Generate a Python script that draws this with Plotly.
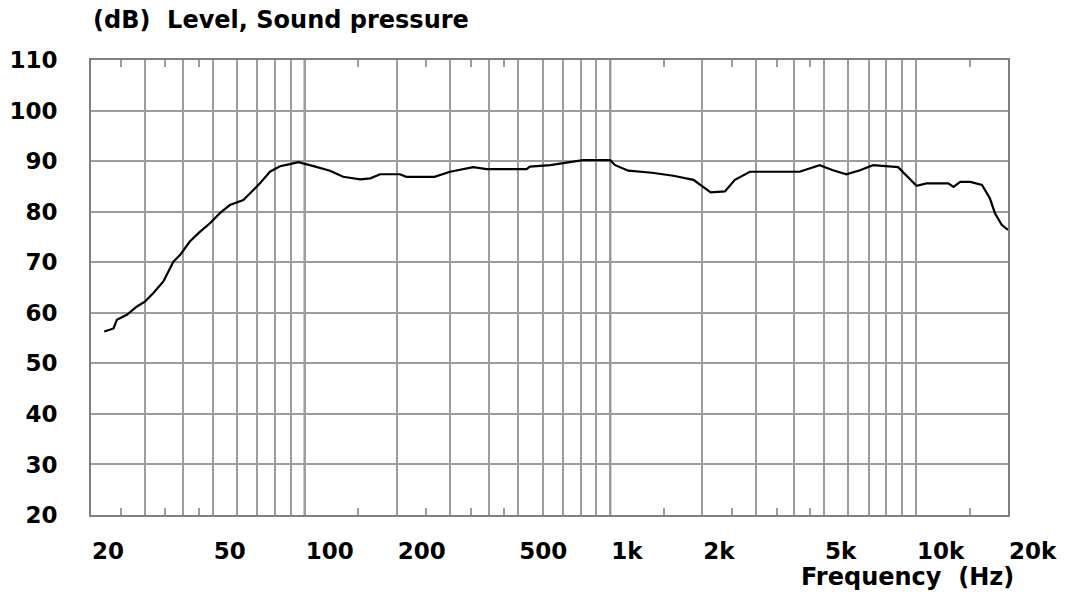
import plotly.graph_objects as go

# Measured response (Hz, dB)
FREQ = [22.1, 23.7, 24.3, 26.2, 28.2, 30.0, 32.0, 34.5, 37.2, 39.1, 42.1, 45.4, 49.0, 52.8,
        56.9, 63.0, 66.2, 71.4, 77.0, 83.0, 89.5, 95.4, 106.9, 121, 133.6, 152, 164, 176.6,
        205, 215, 266, 299, 356, 394, 532, 546, 636, 711, 814, 998, 1037, 1146, 1368, 1607,
        1870, 2130, 2370, 2556, 2862, 4160, 4840, 5350, 5920, 6560, 7240, 8740, 9560, 10040,
        10820, 12760, 13260, 13960, 15050, 16440, 17460, 18130, 19070, 20000]
SPL = [56.3, 56.9, 58.6, 59.6, 61.2, 62.2, 63.9, 66.2, 70.1, 71.4, 74.1, 76.0, 77.7, 79.7,
       81.3, 82.3, 83.6, 85.6, 87.9, 89.0, 89.4, 89.8, 89.0, 88.1, 86.9, 86.4, 86.6, 87.4,
       87.4, 86.9, 86.9, 87.9, 88.8, 88.4, 88.4, 88.9, 89.2, 89.7, 90.2, 90.2, 89.2, 88.1, 87.7, 87.1,
       86.3, 83.8, 84.0, 86.3, 87.9, 87.9, 89.2, 88.2, 87.4, 88.2, 89.2, 88.8, 86.3, 85.1,
       85.6, 85.6, 84.9, 85.9, 85.9, 85.3, 82.6, 79.7, 77.4, 76.4]

GRID_VALS = [20, 30, 40, 50, 60, 70, 80, 90, 100, 200, 300, 400, 500, 600, 700, 800, 900,
             1000, 2000, 3000, 4000, 5000, 6000, 7000, 8000, 9000, 10000, 20000]
LABELS = {20: "20", 50: "50", 100: "100", 200: "200", 500: "500", 1000: "1k",
          2000: "2k", 5000: "5k", 10000: "10k", 20000: "20k"}
DECADES = [100, 1000, 10000]
MINOR_TICKS = [25, 35, 45, 150, 250, 350, 450, 1500, 2500, 3500, 4500, 15000]
Y_TICKS = [20, 30, 40, 50, 60, 70, 80, 90, 100, 110]

FONT = "DejaVu Sans"
GRID = "#9c9c9c"
DARK = "#6a6a6a"
XRANGE = [1.30103, 4.30103]

fig = go.Figure()
fig.add_trace(go.Scatter(x=FREQ, y=SPL, mode="lines",
                         line=dict(color="black", width=2.2), hoverinfo="skip",
                         showlegend=False))
# same data on the top axis (invisible) so the top axis with its short ticks is drawn
fig.add_trace(go.Scatter(x=FREQ, y=SPL, mode="lines", xaxis="x2", opacity=0,
                         line=dict(color="black", width=0), hoverinfo="skip",
                         showlegend=False))

for d in DECADES:
    fig.add_shape(type="line", xref="x", yref="paper", x0=d, x1=d, y0=0, y1=1,
                  layer="between", line=dict(color=DARK, width=2))

minor_ticks = dict(tickmode="array", tickvals=MINOR_TICKS, ticks="inside", ticklen=7,
                   tickwidth=2, tickcolor=GRID, showgrid=False)

fig.update_layout(
    width=1065, height=594,
    margin=dict(l=91, r=57, t=60, b=79, autoexpand=False),
    paper_bgcolor="white", plot_bgcolor="white",
    xaxis=dict(
        type="log", range=XRANGE,
        tickmode="array", tickvals=GRID_VALS,
        ticktext=[LABELS.get(v, "") for v in GRID_VALS],
        ticks="", ticklabelposition="outside right", ticklabeloverflow="allow",
        ticklabelstandoff=14,
        tickfont=dict(family=FONT, size=23, color="black", weight="bold"),
        showgrid=True, gridcolor=GRID, gridwidth=2,
        showline=True, linecolor="#808080", linewidth=2, mirror=True,
        minor=minor_ticks,
        zeroline=False, automargin=False,
    ),
    xaxis2=dict(
        type="log", range=XRANGE, overlaying="x", side="top", anchor="y",
        tickmode="array", tickvals=[], ticks="", showticklabels=False,
        showgrid=False, showline=False, zeroline=False, automargin=False,
        minor=minor_ticks,
    ),
    yaxis=dict(
        range=[20, 110], tickmode="array", tickvals=Y_TICKS, ticks="",
        ticklabelstandoff=27,
        tickfont=dict(family=FONT, size=23, color="black", weight="bold"),
        showgrid=True, gridcolor=GRID, gridwidth=2,
        showline=True, linecolor="#808080", linewidth=2, mirror=True,
        zeroline=False, automargin=False,
    ),
    annotations=[
        dict(text="(dB)  Level, Sound pressure", xref="paper", yref="paper",
             x=0, y=1, xanchor="left", yanchor="middle", yshift=40, showarrow=False,
             font=dict(family=FONT, size=24, color="black", weight="bold")),
        dict(text="Frequency  (Hz)", xref="paper", yref="paper",
             x=1, y=0, xanchor="right", yanchor="middle", xshift=8, yshift=-62,
             showarrow=False,
             font=dict(family=FONT, size=24, color="black", weight="bold")),
    ],
)

fig.write_html("out.html", config={"displayModeBar": False},
               post_script="document.body.style.margin='0';document.body.style.padding='0';")
